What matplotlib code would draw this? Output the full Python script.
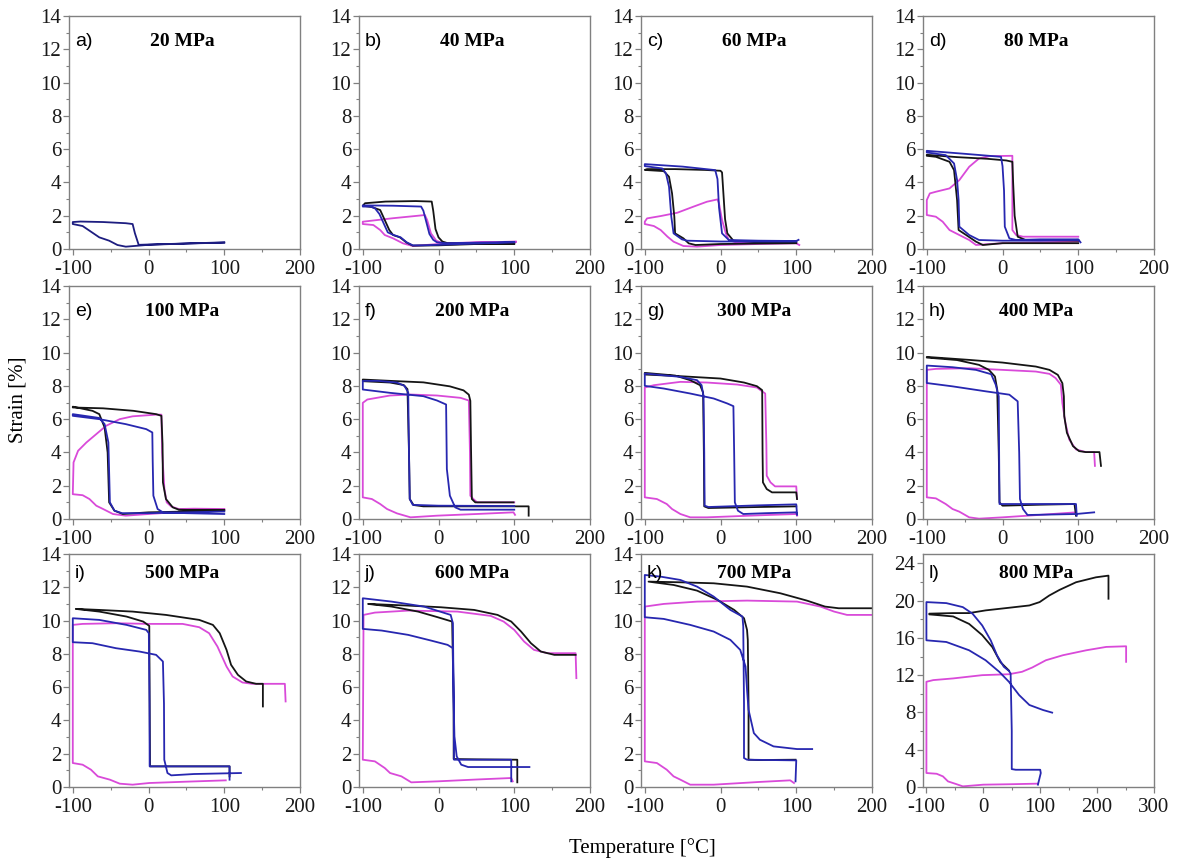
import matplotlib
matplotlib.use("Agg")
import matplotlib.pyplot as plt
from matplotlib.ticker import MultipleLocator
import numpy as np

plt.rcParams['font.family'] = ['Liberation Serif', 'DejaVu Serif']
plt.rcParams['axes.unicode_minus'] = False

# strain-temperature loops, (T [°C], strain [%]) read per stress level
# --- 20 MPa
a_navy = [(100, 0.38), (50, 0.33), (0, 0.25), (-30, 0.14), (-41, 0.24), (-52, 0.5), (-65, 0.7),
          (-76, 1.04), (-87, 1.38), (-100, 1.5), (-100, 1.62), (-90, 1.65), (-60, 1.62), (-30, 1.55),
          (-21, 1.5), (-18, 0.95), (-13, 0.25), (0, 0.27), (50, 0.33), (100, 0.4)]
# --- 40 MPa
b_black = [(100, 0.3), (50, 0.3), (0, 0.22), (-34, 0.2), (-42, 0.38), (-51, 0.7), (-60, 0.84),
           (-65, 1.14), (-71, 1.74), (-77, 2.34), (-88, 2.52), (-100, 2.6), (-97, 2.75), (-70, 2.85),
           (-30, 2.88), (-9, 2.85), (-7, 2.3), (-4, 1.2), (0, 0.7), (5, 0.45), (12, 0.35), (50, 0.32),
           (100, 0.35)]
b_blue = [(100, 0.42), (50, 0.38), (10, 0.35), (-2, 0.4), (-7, 0.55), (-12, 0.9), (-16, 1.6),
          (-20, 2.3), (-23, 2.55), (-60, 2.6), (-100, 2.62), (-100, 2.55), (-90, 2.55), (-84, 2.45),
          (-78, 2.1), (-72, 1.5), (-67, 1.0), (-60, 0.85), (-50, 0.7), (-42, 0.4), (-34, 0.22),
          (-20, 0.22), (0, 0.25), (50, 0.33), (100, 0.4)]
b_mag = [(102, 0.45), (50, 0.38), (0, 0.3), (-34, 0.18), (-47, 0.34), (-60, 0.64), (-71, 0.84),
         (-77, 1.14), (-86, 1.44), (-100, 1.5), (-100, 1.64), (-60, 1.85), (-18, 2.04), (-15, 1.74),
         (-10, 0.94), (-3, 0.5), (6, 0.34), (50, 0.4), (102, 0.42)]
# --- 60 MPa
c_black = [(100, 0.35), (50, 0.33), (0, 0.3), (-33, 0.24), (-42, 0.34), (-49, 0.64), (-60, 0.94),
           (-61, 1.94), (-64, 3.34), (-68, 4.34), (-75, 4.68), (-100, 4.75), (-97, 4.8), (-60, 4.8),
           (-20, 4.75), (0, 4.7), (2, 4.6), (4, 3.2), (6, 1.8), (9, 0.94), (17, 0.5), (50, 0.42),
           (100, 0.4)]
c_blue = [(103, 0.55), (100, 0.48), (50, 0.5), (11, 0.54), (2, 0.94), (-2, 2.5), (-4, 4.2),
          (-7, 4.74), (-50, 4.95), (-100, 5.1), (-100, 4.98), (-77, 4.84), (-72, 4.54), (-68, 3.74),
          (-65, 1.94), (-62, 0.94), (-51, 0.58), (-44, 0.5), (0, 0.45), (50, 0.45), (100, 0.45)]
c_mag = [(104, 0.24), (100, 0.34), (50, 0.3), (0, 0.24), (-31, 0.14), (-49, 0.18), (-62, 0.44),
         (-70, 0.74), (-79, 1.14), (-88, 1.38), (-100, 1.5), (-100, 1.64), (-97, 1.84), (-79, 1.98),
         (-57, 2.18), (-36, 2.54), (-18, 2.84), (-4, 2.98), (-2, 2.74), (2, 1.74), (7, 0.94),
         (11, 0.54), (20, 0.4), (60, 0.38), (100, 0.36)]
# --- 80 MPa
d_black = [(100, 0.35), (50, 0.35), (0, 0.35), (-26, 0.24), (-35, 0.44), (-48, 0.84), (-58, 1.14),
           (-60, 2.94), (-64, 4.74), (-70, 5.24), (-88, 5.54), (-100, 5.6), (-100, 5.66), (-60, 5.52),
           (-20, 5.42), (5, 5.32), (13, 5.24), (14, 4.0), (16, 2.0), (20, 0.74), (30, 0.55),
           (100, 0.5)]
d_blue = [(103, 0.4), (100, 0.58), (50, 0.58), (18, 0.54), (9, 0.64), (3, 1.34), (2, 3.5),
          (0, 4.98), (-2, 5.54), (-50, 5.72), (-100, 5.9), (-100, 5.8), (-75, 5.64), (-64, 5.14),
          (-60, 4.14), (-58, 2.94), (-57, 1.34), (-44, 0.84), (-31, 0.54), (0, 0.5), (50, 0.5),
          (100, 0.55)]
d_mag = [(100, 0.45), (50, 0.4), (0, 0.35), (-35, 0.24), (-44, 0.54), (-57, 0.84), (-70, 1.14),
         (-79, 1.64), (-88, 1.94), (-100, 2.04), (-100, 2.94), (-96, 3.34), (-88, 3.44), (-70, 3.64),
         (-57, 4.14), (-44, 4.94), (-31, 5.44), (-17, 5.58), (13, 5.6), (13, 1.14), (18, 0.84),
         (27, 0.74), (100, 0.74)]
# --- 100 MPa
e_black = [(100, 0.55), (50, 0.55), (40, 0.56), (32, 0.7), (23, 1.2), (19, 2.2), (18.5, 4.5),
           (17, 6.2), (10, 6.3), (-20, 6.5), (-60, 6.65), (-100, 6.7), (-100, 6.75), (-74, 6.5),
           (-65, 6.3), (-58, 5.5), (-54, 4.0), (-52, 1.0), (-45, 0.5), (-34, 0.3), (0, 0.4),
           (50, 0.45), (100, 0.5)]
e_blue = [(100, 0.3), (50, 0.35), (19, 0.4), (12, 0.6), (6.4, 1.4), (5.5, 3.5), (5, 5.2),
          (-3, 5.4), (-30, 5.7), (-65, 6.0), (-100, 6.2), (-100, 6.3), (-65, 6.07), (-58, 5.7),
          (-53, 4.6), (-51, 1.0), (-45, 0.5), (-35, 0.35), (0, 0.35), (50, 0.4), (100, 0.45)]
e_mag = [(100, 0.6), (60, 0.62), (40, 0.6), (30, 0.75), (24, 1.0), (21, 1.8), (18, 4.0),
         (17, 6.27), (10, 6.27), (-21, 6.17), (-38, 6.0), (-56, 5.6), (-69, 5.1), (-82, 4.6),
         (-93, 4.1), (-99, 3.4), (-100, 1.49), (-87, 1.43), (-78, 1.2), (-69, 0.8), (-60, 0.6),
         (-47, 0.3), (-30, 0.2), (0, 0.3), (50, 0.45), (100, 0.55)]
# --- 200 MPa
f_black = [(119, 0.2), (119, 0.76), (50, 0.76), (-20, 0.76), (-33, 0.84), (-38, 1.2), (-39, 4.0),
           (-41, 7.8), (-46, 8.05), (-64, 8.2), (-100, 8.28), (-100, 8.38), (-64, 8.3), (-20, 8.21),
           (15, 7.97), (33, 7.73), (40, 7.47), (42, 7.1), (43, 4.0), (44, 1.2), (48.5, 1.0),
           (99, 1.0)]
f_blue = [(100, 0.56), (50, 0.56), (29, 0.56), (22, 0.7), (15, 1.4), (11, 3.0), (10, 6.88),
          (-2, 7.12), (-20, 7.38), (-64, 7.58), (-100, 7.78), (-100, 8.3), (-80, 8.3), (-55, 8.2),
          (-45, 8.0), (-40, 7.6), (-39, 4.0), (-38, 1.2), (-34, 0.85), (0, 0.8), (100, 0.78)]
f_mag = [(100, 1.0), (51, 1.0), (46, 1.2), (42, 1.4), (41.5, 4.0), (40, 7.12), (29, 7.28),
         (-2, 7.42), (-37, 7.48), (-64, 7.42), (-94, 7.18), (-100, 6.98), (-100, 1.3), (-88, 1.2),
         (-77, 0.9), (-68, 0.6), (-55, 0.34), (-37, 0.1), (-2, 0.2), (50, 0.3), (99, 0.4),
         (101, 0.25)]
# --- 300 MPa
g_black = [(101, 1.2), (100, 1.6), (68, 1.6), (61, 1.8), (56, 2.2), (55.5, 4.0), (55, 7.74),
           (48, 7.98), (31, 8.2), (0, 8.44), (-53, 8.58), (-100, 8.68), (-100, 8.78), (-60, 8.62),
           (-40, 8.34), (-27, 8.04), (-23, 7.6), (-22, 4.0), (-21.5, 0.76), (-16, 0.66), (50, 0.72),
           (100, 0.76)]
g_mag = [(101, 1.2), (100, 1.96), (72, 1.96), (66, 2.2), (61, 2.6), (60.5, 4.5), (59, 7.54),
         (48, 7.9), (22, 8.08), (-18, 8.2), (-53, 8.24), (-88, 8.04), (-100, 7.9), (-100, 1.3),
         (-84, 1.2), (-71, 0.9), (-64, 0.6), (-53, 0.3), (-40, 0.1), (-18, 0.1), (50, 0.22),
         (100, 0.3), (101, 0.2)]
g_blue = [(101, 0.25), (100, 0.4), (60, 0.35), (30, 0.3), (23, 0.5), (18.9, 1.0), (18, 4.0),
          (17, 6.78), (9, 6.94), (-9, 7.24), (-40, 7.54), (-75, 7.84), (-100, 8.0), (-100, 8.74),
          (-53, 8.54), (-31, 8.34), (-25, 8.04), (-22.5, 7.4), (-21.5, 4.0), (-21, 0.8), (-16, 0.72),
          (50, 0.82), (100, 0.88), (101, 0.3)]
# --- 400 MPa
h_black = [(97, 0.2), (95, 0.9), (50, 0.86), (0, 0.8), (-4, 1.0), (-5, 4.0), (-7, 7.77),
           (-10, 8.56), (-18, 8.96), (-31, 9.26), (-60, 9.55), (-100, 9.7), (-100, 9.74), (-44, 9.56),
           (0, 9.4), (44, 9.16), (62, 8.96), (73, 8.66), (79, 8.16), (81, 7.37), (81.5, 6.18),
           (85, 5.18), (93, 4.38), (101, 4.08), (110, 4.02), (128, 4.02), (130, 3.19)]
h_mag = [(97, 0.4), (50, 0.25), (0, 0.1), (-31, 0.02), (-44, 0.1), (-57, 0.44), (-66, 0.6),
         (-75, 0.9), (-88, 1.24), (-100, 1.3), (-100, 8.96), (-88, 9.02), (-44, 9.06), (0, 8.96),
         (44, 8.86), (62, 8.72), (70, 8.47), (77, 8.07), (79, 6.97), (83, 5.78), (88, 4.78),
         (97, 4.18), (110, 4.02), (121, 4.02), (122, 3.19)]
h_blue = [(121, 0.4), (97, 0.3), (33, 0.24), (27, 0.6), (23, 1.2), (22, 4.0), (20, 7.07),
          (9, 7.47), (-22, 7.67), (-66, 7.97), (-100, 8.17), (-100, 9.22), (-66, 9.12), (-35, 8.96),
          (-15, 8.7), (-9, 8.07), (-5, 7.37), (-4.5, 4.0), (-4, 0.9), (50, 0.9), (97, 0.9),
          (98, 0.2)]
# --- 500 MPa
i_black = [(107, 0.64), (107, 1.24), (50, 1.24), (2, 1.24), (1.5, 5.0), (1, 9.68), (-7, 9.94),
           (-29, 10.24), (-65, 10.54), (-96, 10.7), (-65, 10.64), (-21, 10.54), (23, 10.34),
           (67, 10.04), (85, 9.74), (94, 9.24), (103, 8.24), (109, 7.34), (118, 6.74), (129, 6.34),
           (142, 6.2), (151, 6.2), (151, 4.84)]
i_mag = [(102, 0.4), (50, 0.32), (1, 0.24), (-21, 0.14), (-38, 0.2), (-51, 0.44), (-67, 0.64),
         (-76, 1.04), (-87, 1.34), (-100, 1.44), (-100, 9.74), (-87, 9.8), (-43, 9.84), (1, 9.8),
         (45, 9.8), (67, 9.6), (80, 9.24), (91, 8.44), (103, 7.24), (111, 6.64), (124, 6.28),
         (137, 6.2), (180, 6.2), (181, 5.14)]
i_blue = [(122, 0.84), (60, 0.78), (30, 0.7), (25, 0.84), (20.8, 1.64), (20.4, 5.0), (19, 7.54),
          (10, 7.94), (-12, 8.14), (-43, 8.34), (-74, 8.64), (-100, 8.7), (-100, 10.14),
          (-65, 10.04), (-29, 9.74), (-3, 9.44), (0.4, 9.24), (1.3, 5.0), (1.5, 1.24), (50, 1.24),
          (107, 1.24), (107, 0.44)]
# --- 600 MPa
j_black = [(104, 0.28), (104, 1.64), (50, 1.66), (20, 1.68), (20, 5.0), (18, 9.94), (-1, 10.2),
           (-27, 10.54), (-62, 10.84), (-93, 11.0), (-40, 10.9), (3, 10.8), (47, 10.64), (78, 10.34),
           (96, 9.94), (109, 9.34), (122, 8.64), (135, 8.14), (153, 7.94), (181, 7.94)]
j_mag = [(98, 0.34), (96, 0.54), (50, 0.45), (-1, 0.34), (-36, 0.28), (-49, 0.64), (-64, 0.84),
         (-71, 1.14), (-84, 1.54), (-100, 1.64), (-99, 10.34), (-84, 10.48), (-40, 10.6),
         (25, 10.54), (69, 10.28), (86, 9.94), (100, 9.44), (113, 8.74), (126, 8.24), (144, 8.04),
         (181, 8.04), (182, 6.54)]
j_blue = [(120, 1.2), (39, 1.2), (30, 1.34), (24, 1.84), (21, 3.04), (20, 5.0), (19, 8.34),
          (12, 8.54), (-10, 8.8), (-40, 9.14), (-75, 9.4), (-100, 9.5), (-100, 11.34), (-62, 11.14),
          (-19, 10.84), (16, 10.34), (19, 9.84), (20, 5.0), (20.5, 1.64), (60, 1.64), (96, 1.64),
          (96, 0.34)]
# --- 700 MPa
k_black = [(99, 1.64), (50, 1.62), (37, 1.64), (37, 5.0), (36, 8.84), (35, 9.44), (31, 10.14),
           (18, 10.64), (-4, 11.24), (-31, 11.8), (-62, 12.14), (-95, 12.34), (-53, 12.3),
           (-9, 12.24), (35, 12.04), (79, 11.64), (114, 11.2), (138, 10.84), (156, 10.74),
           (200, 10.74)]
k_mag = [(97, 0.24), (92, 0.4), (50, 0.3), (-9, 0.14), (-40, 0.14), (-53, 0.44), (-62, 0.64),
         (-71, 1.04), (-84, 1.44), (-100, 1.54), (-100, 10.84), (-75, 11.0), (-31, 11.14),
         (35, 11.2), (101, 11.14), (132, 10.84), (150, 10.54), (167, 10.34), (200, 10.34)]
k_blue = [(121, 2.28), (101, 2.28), (70, 2.44), (52, 2.84), (44, 3.24), (37, 4.64), (35, 5.84),
          (33, 7.24), (26, 8.24), (13, 8.84), (-9, 9.34), (-40, 9.74), (-75, 10.1), (-100, 10.2),
          (-100, 12.74), (-79, 12.64), (-53, 12.44), (-31, 12.04), (-9, 11.44), (13, 10.64),
          (29, 10.24), (30, 9.64), (31, 5.0), (31, 1.74), (35, 1.64), (100, 1.6), (99, 0.34)]
# --- 800 MPa
l_black = [(45, 12.5), (30, 13.4), (16, 15.0), (-2, 16.3), (-25, 17.5), (-53, 18.3), (-95, 18.52),
           (-95, 18.6), (-53, 18.66), (-25, 18.66), (4, 18.95), (45, 19.23), (81, 19.48),
           (99, 19.84), (116, 20.55), (134, 21.15), (163, 21.97), (198, 22.5), (220, 22.68),
           (220, 20.2)]
l_mag = [(96, 0.36), (50, 0.3), (0, 0.25), (-36, 0.07), (-48, 0.32), (-62, 0.6), (-71, 1.14),
         (-82, 1.42), (-100, 1.5), (-100, 11.29), (-88, 11.47), (-53, 11.65), (-2, 12.0),
         (45, 12.1), (68, 12.36), (86, 12.82), (110, 13.6), (140, 14.14), (181, 14.67),
         (216, 15.03), (251, 15.1), (251, 13.43)]
l_blue = [(96, 0.25), (101, 1.5), (100, 1.85), (57, 1.85), (50, 1.92), (50, 6.0), (48, 12.18),
          (45, 12.46), (36, 12.9), (24, 14.14), (13, 15.74), (-2, 17.34), (-19, 18.6), (-36, 19.3),
          (-65, 19.73), (-100, 19.84), (-100, 15.74), (-65, 15.56), (-25, 14.67), (4, 13.6),
          (28, 12.36), (45, 11.29), (63, 9.86), (81, 8.8), (105, 8.26), (121, 7.98)]

letters = ['a)', 'b)', 'c)', 'd)', 'e)', 'f)', 'g)', 'h)', 'i)', 'j)', 'k)', 'l)']
stresses = [20, 40, 60, 80, 100, 200, 300, 400, 500, 600, 700, 800]

BLACK = '#151515'
NAVY = '#1d1d80'
BLUE = '#2727b0'
MAGENTA = '#d94ad9'

curves = [
    [(a_navy, NAVY)],
    [(b_mag, MAGENTA), (b_black, BLACK), (b_blue, BLUE)],
    [(c_mag, MAGENTA), (c_black, BLACK), (c_blue, BLUE)],
    [(d_mag, MAGENTA), (d_black, BLACK), (d_blue, BLUE)],
    [(e_mag, MAGENTA), (e_black, BLACK), (e_blue, BLUE)],
    [(f_mag, MAGENTA), (f_black, BLACK), (f_blue, BLUE)],
    [(g_mag, MAGENTA), (g_black, BLACK), (g_blue, BLUE)],
    [(h_mag, MAGENTA), (h_black, BLACK), (h_blue, BLUE)],
    [(i_mag, MAGENTA), (i_black, BLACK), (i_blue, BLUE)],
    [(j_mag, MAGENTA), (j_black, BLACK), (j_blue, BLUE)],
    [(k_mag, MAGENTA), (k_black, BLACK), (k_blue, BLUE)],
    [(l_mag, MAGENTA), (l_black, BLACK), (l_blue, BLUE)],
]

FW, FH = 1177, 861
col_left = [69, 359, 641, 923]
row_top = [16, 286, 554]
AW, AH = 231, 233
SPINE = '#808080'

fig = plt.figure(figsize=(FW / 100, FH / 100), dpi=100)

for n in range(12):
    r, c = divmod(n, 4)
    ax = fig.add_axes([col_left[c] / FW, 1 - (row_top[r] + AH) / FH, AW / FW, AH / FH])
    for pts, col in curves[n]:
        arr = np.array(pts)
        ax.plot(arr[:, 0], arr[:, 1], color=col, lw=1.3, solid_joinstyle='round')

    if n == 11:
        ax.set_xlim(-106, 300)
        ax.set_ylim(0, 25)
        ax.set_xticks([-100, 0, 100, 200, 300])
        ax.set_yticks(range(0, 25, 4))
        ax.yaxis.set_minor_locator(MultipleLocator(2))
    else:
        ax.set_xlim(-105, 200)
        ax.set_ylim(0, 14)
        ax.set_xticks([-100, 0, 100, 200])
        ax.set_yticks(range(0, 15, 2))
        ax.yaxis.set_minor_locator(MultipleLocator(1))
    ax.xaxis.set_minor_locator(MultipleLocator(50))

    for s in ax.spines.values():
        s.set_color(SPINE)
        s.set_linewidth(1.0)
    ax.tick_params(which='major', direction='out', length=4, width=0.9, color=SPINE,
                   labelsize=15, labelcolor='#1a1a1a')
    ax.tick_params(axis='x', which='major', pad=4)
    ax.tick_params(axis='y', which='major', pad=1.5)
    ax.tick_params(which='minor', direction='out', length=2.5, width=0.8, color=SPINE)

    ty = 0.915 if r == 2 else 0.89
    ax.text(0.025, ty, letters[n], transform=ax.transAxes, fontsize=14,
            family=['Liberation Sans', 'DejaVu Sans'], ha='left', va='center')
    ax.text(0.49, ty, f'{stresses[n]} MPa', transform=ax.transAxes, fontsize=14,
            fontweight='bold', ha='center', va='center')

fig.text(18 / FW, 1 - 400 / FH, 'Strain [%]', rotation=90, fontsize=15, ha='center', va='center')
fig.text(642 / FW, 1 - 848 / FH, 'Temperature [°C]', fontsize=15, ha='center', va='center')

fig.savefig('out.png', dpi=100, facecolor='white')
